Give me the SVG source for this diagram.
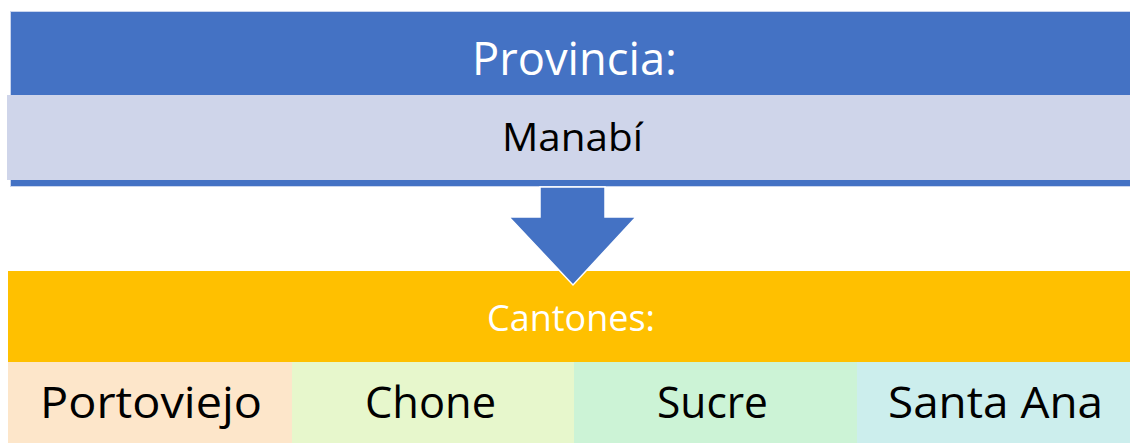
<svg xmlns="http://www.w3.org/2000/svg" width="1130" height="443" viewBox="0 0 1130 443">
<style>
text{font-family:"Open Sans","Liberation Sans",sans-serif;text-anchor:middle}
.w{fill:#ffffff}
.k{fill:#000000}
</style>
<rect width="1130" height="443" fill="#ffffff"/>
<g id="provincia">
<rect x="10.5" y="11.5" width="1125" height="175" fill="#4472C4" stroke="#C9D5EE" stroke-width="1"/>
<text class="w" x="574.5" y="75" font-size="45" textLength="205" lengthAdjust="spacingAndGlyphs">Provincia:</text>
</g>
<g id="manabi">
<rect x="7" y="95" width="1123" height="85" fill="#CFD5EA"/>
<text class="k" x="572.5" y="151" font-size="39" textLength="141" lengthAdjust="spacingAndGlyphs">Manabí</text>
</g>
<g id="cantones">
<rect x="8" y="271" width="1122" height="91" fill="#FFC000"/>
<text class="w" x="571" y="331" font-size="37" textLength="168" lengthAdjust="spacingAndGlyphs">Cantones:</text>
</g>
<g id="portoviejo">
<rect x="8" y="362" width="284" height="81" fill="#FDE6CA"/>
<text class="k" x="151" y="418" font-size="43" textLength="222" lengthAdjust="spacingAndGlyphs">Portoviejo</text>
</g>
<g id="chone">
<rect x="292" y="362" width="282" height="81" fill="#E7F7CC"/>
<text class="k" x="430.5" y="418" font-size="43" textLength="131" lengthAdjust="spacingAndGlyphs">Chone</text>
</g>
<g id="sucre">
<rect x="574" y="362" width="283" height="81" fill="#CCF3D6"/>
<text class="k" x="712.5" y="418" font-size="43" textLength="111" lengthAdjust="spacingAndGlyphs">Sucre</text>
</g>
<g id="santa-ana">
<rect x="857" y="362" width="273" height="81" fill="#CCEEED"/>
<text class="k" x="995.5" y="418" font-size="43" textLength="215" lengthAdjust="spacingAndGlyphs">Santa Ana</text>
</g>
<g id="connectors">
<polygon points="540,187 605,187 605,217 636,217 573,285 509,217 540,217" fill="#4472C4" stroke="#ffffff" stroke-width="1.5" stroke-linejoin="miter"/>
</g>
</svg>
